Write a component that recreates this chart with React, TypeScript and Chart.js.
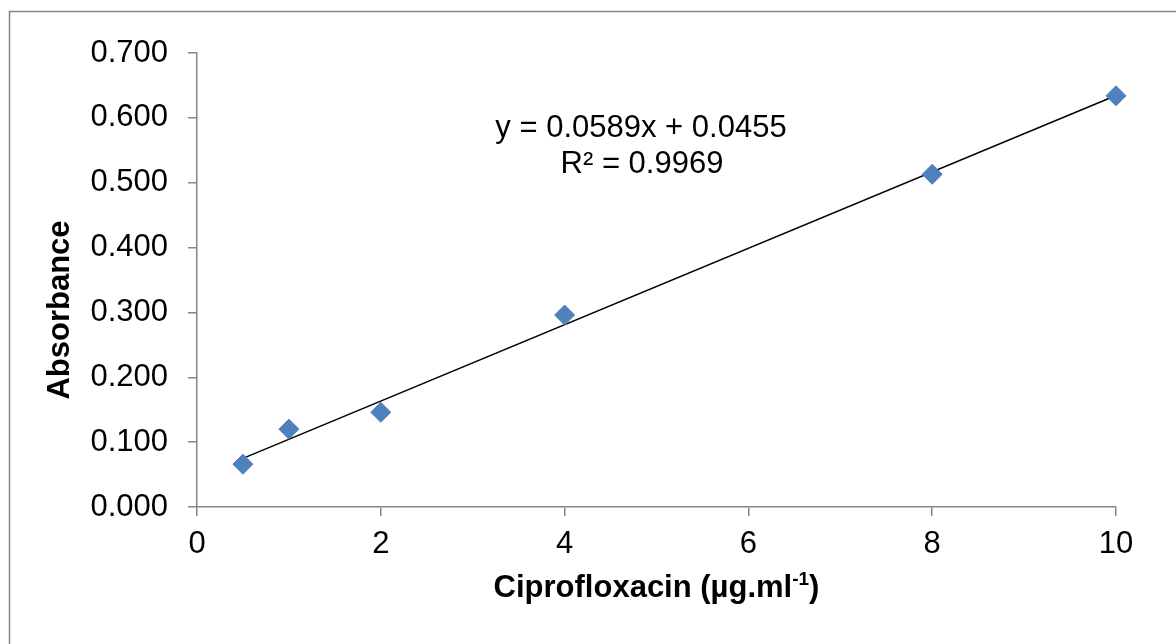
import React, { useEffect, useRef } from "react";
import { Chart, registerables } from "chart.js";

Chart.register(...registerables);

// Calibration data (Ciprofloxacin concentration vs absorbance)
const concentrations = [0.5, 1, 2, 4, 8, 10];
const absorbances = [0.066, 0.120, 0.146, 0.296, 0.513, 0.634];

// Linear trendline endpoints (y = 0.0589x + 0.0455 over data range)
const trendX = [0.5, 10];
const trendY = [0.07495, 0.6345];

const equationLabel = "y = 0.0589x + 0.0455";
const r2Label = "R² = 0.9969";
const xTitleMain = "Ciprofloxacin (µg.ml";
const xTitleSup = "-1";
const xTitleEnd = ")";
const yTitle = "Absorbance";

const FONT = "'Liberation Sans', Arial, sans-serif";
const AXIS_GREY = "#868686";

const overlayPlugin = {
  id: "overlay",
  beforeDraw(chart: any) {
    const ctx = chart.ctx;
    ctx.save();
    ctx.fillStyle = "#ffffff";
    ctx.fillRect(0, 0, chart.width, chart.height);
    ctx.strokeStyle = AXIS_GREY;
    ctx.lineWidth = 1.5;
    ctx.strokeRect(9.5, 11.5, 1400, 900);
    ctx.restore();
  },
  afterDraw(chart: any) {
    const ctx = chart.ctx;
    const area = chart.chartArea;
    const cx = (area.left + area.right) / 2;
    ctx.save();
    ctx.fillStyle = "#000";
    ctx.textAlign = "center";
    ctx.textBaseline = "middle";
    // trendline equation
    ctx.font = `31px ${FONT}`;
    ctx.fillText(equationLabel, 641, 128);
    ctx.fillText(r2Label, 642, 164);

    // x-axis title with superscript
    const bold = `bold 31px ${FONT}`;
    const supFont = `bold 19px ${FONT}`;
    ctx.font = bold;
    const w1 = ctx.measureText(xTitleMain).width;
    const w3 = ctx.measureText(xTitleEnd).width;
    ctx.font = supFont;
    const w2 = ctx.measureText(xTitleSup).width;
    const total = w1 + w2 + w3;
    let x = cx - total / 2;
    const ty = 588;
    ctx.textAlign = "left";
    ctx.textBaseline = "middle";
    ctx.font = bold;
    ctx.fillText(xTitleMain, x, ty);
    x += w1;
    ctx.font = supFont;
    ctx.fillText(xTitleSup, x, ty - 8);
    x += w2;
    ctx.font = bold;
    ctx.fillText(xTitleEnd, x, ty);

    // y-axis title
    ctx.translate(60, 310);
    ctx.rotate(-Math.PI / 2);
    ctx.textAlign = "center";
    ctx.font = bold;
    ctx.fillText(yTitle, 0, 0);
    ctx.restore();
  },
};

export default function App() {
  const ref = useRef<HTMLCanvasElement | null>(null);

  useEffect(() => {
    if (!ref.current) return;
    const chart = new Chart(ref.current, {
      type: "scatter",
      data: {
        datasets: [
          {
            label: "Trendline",
            data: trendX.map((x, i) => ({ x, y: trendY[i] })),
            showLine: true,
            borderColor: "#000000",
            borderWidth: 1.5,
            pointRadius: 0,
            fill: false,
            clip: false,
            order: 2,
          },
          {
            label: "Absorbance",
            data: concentrations.map((x, i) => ({ x, y: absorbances[i] })),
            pointStyle: "rectRot",
            pointRadius: 10,
            backgroundColor: "#4F81BD",
            borderColor: "#4F81BD",
            borderWidth: 1,
            clip: false,
            order: 1,
          },
        ],
      },
      options: {
        responsive: false,
        animation: false,
        layout: { padding: { left: 0, top: 53, right: 60, bottom: 0 } },
        plugins: {
          legend: { display: false },
          tooltip: { enabled: false },
        },
        scales: {
          x: {
            type: "linear",
            min: 0,
            max: 10,
            ticks: {
              stepSize: 2,
              color: "#000",
              padding: 10,
              font: { family: FONT, size: 31 },
            },
            grid: {
              drawOnChartArea: false,
              drawTicks: true,
              tickLength: 9,
              color: AXIS_GREY,
              lineWidth: 1.5,
            },
            border: { color: AXIS_GREY, width: 1.5 },
            afterFit: (s: any) => {
              s.height = 137;
            },
          },
          y: {
            type: "linear",
            min: 0,
            max: 0.7,
            ticks: {
              stepSize: 0.1,
              color: "#000",
              padding: 20,
              font: { family: FONT, size: 31 },
              callback: (v: any) => Number(v).toFixed(3),
            },
            grid: {
              drawOnChartArea: false,
              drawTicks: true,
              tickLength: 9,
              color: AXIS_GREY,
              lineWidth: 1.5,
            },
            border: { color: AXIS_GREY, width: 1.5 },
            afterFit: (s: any) => {
              s.width = 197;
            },
          },
        },
      },
      plugins: [overlayPlugin],
    });
    return () => chart.destroy();
  }, []);

  return (
    <div style={{ position: "absolute", left: 0, top: 0, width: 1176, height: 644 }}>
      <canvas ref={ref} width={1176} height={644} />
    </div>
  );
}
